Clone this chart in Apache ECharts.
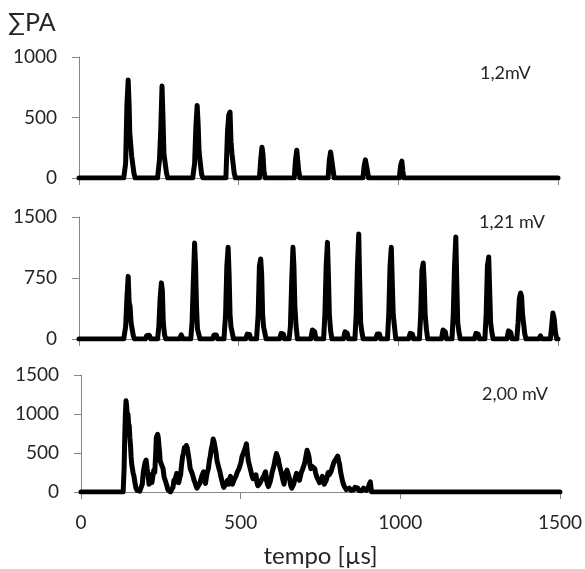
<!DOCTYPE html>
<html><head><meta charset="utf-8">
<script src="https://cdn.jsdelivr.net/npm/echarts@6/dist/echarts.min.js"></script>
<style>html,body{margin:0;padding:0;background:#fff}#c{width:585px;height:569px}</style>
</head><body><div id="c"></div>
<script>
// x: time [µs], y: ΣPA
const xTicks = [0, 500, 1000, 1500];
const panelLabels = ['1,2mV', '1,21 mV', '2,00 mV'];
const yMax = [1000, 1500, 1500];
const yStep = [500, 750, 500];

const data12 = [[0,0],[140,0],[146,120],[150,600],[154,810],[157,600],[159,370],[162,360],[165,180],[168,170],[172,40],[176,0],
 [246,0],[252,150],[256,400],[260,760],[263,500],[266,200],[270,190],[274,40],[278,0],
 [356,0],[362,120],[366,420],[370,600],[373,450],[376,220],[380,120],[384,30],[388,0],
 [460,0],[465,380],[469,520],[473,545],[476,300],[479,200],[482,190],[486,40],[490,0],
 [565,0],[569,150],[573,255],[576,200],[579,60],[583,0],
 [674,0],[678,150],[682,230],[685,220],[688,60],[692,0],
 [780,0],[784,150],[788,215],[792,200],[795,80],[799,0],
 [889,0],[893,100],[897,150],[900,140],[903,60],[907,0],
 [1003,0],[1007,100],[1011,140],[1014,60],[1017,0],[1500,0]];

const data121 = [[0,0],[140,0],[146,150],[150,500],[154,770],[157,450],[160,400],[163,200],[166,180],[170,40],[174,0],
 [208,0],[212,40],[220,45],[225,0],
 [246,0],[250,150],[254,500],[258,690],[261,600],[264,200],[268,50],[272,0],
 [315,0],[320,50],[326,0],
 [350,0],[354,200],[358,700],[362,1180],[365,900],[368,400],[371,120],[375,100],[379,0],
 [418,0],[423,50],[430,50],[434,0],
 [454,0],[459,300],[463,900],[467,1127],[470,800],[473,300],[476,150],[480,130],[484,0],
 [522,0],[527,60],[534,55],[538,0],
 [556,0],[561,300],[565,900],[569,984],[572,800],[575,300],[578,150],[582,130],[586,0],
 [628,0],[633,70],[640,60],[644,0],
 [658,0],[662,150],[666,700],[670,1127],[673,900],[676,400],[680,150],[684,0],
 [726,0],[731,110],[738,90],[742,0],
 [766,0],[770,300],[774,900],[778,1188],[781,800],[784,300],[788,100],[792,0],
 [828,0],[833,90],[840,70],[844,0],
 [864,0],[868,300],[872,900],[876,1291],[879,700],[882,200],[886,80],[890,0],
 [929,0],[934,60],[941,60],[945,0],
 [966,0],[970,300],[974,900],[978,1127],[981,700],[984,300],[988,150],[992,0],
 [1032,0],[1037,70],[1044,60],[1048,0],
 [1066,0],[1070,300],[1074,850],[1078,935],[1081,700],[1084,300],[1088,120],[1092,0],
 [1135,0],[1140,110],[1147,90],[1151,0],
 [1168,0],[1172,300],[1176,900],[1180,1254],[1183,700],[1186,200],[1190,80],[1194,0],
 [1238,0],[1243,70],[1250,60],[1254,0],
 [1271,0],[1275,300],[1279,900],[1283,1008],[1286,600],[1289,200],[1293,80],[1297,0],
 [1340,0],[1345,100],[1352,80],[1356,0],
 [1371,0],[1375,200],[1379,500],[1383,566],[1386,520],[1389,300],[1392,200],[1396,60],[1400,0],
 [1440,0],[1445,40],[1450,0],
 [1476,0],[1480,150],[1484,320],[1488,250],[1492,80],[1496,0],[1500,0]];

const data200 = [[0,0],[132,0],[135,300],[137,700],[139,1000],[141,1170],[143,1100],[145,950],[147,1000],[149,880],[151,850],[153,700],
 [155,600],[157,450],[159,350],[161,300],[163,250],[166,200],[169,120],[172,50],[176,20],[180,0],
 [184,10],[188,30],[192,100],[195,250],[198,320],[201,380],[204,410],[207,300],[210,220],[213,100],[216,180],[219,220],[222,120],
 [225,200],[228,280],[231,250],[234,500],[236,700],[238,680],[240,740],[242,700],[244,600],[246,520],[248,400],[251,420],[254,330],
 [257,300],[260,200],[263,180],[266,120],[269,80],[272,30],[276,10],[280,0],
 [284,30],[288,60],[291,150],[294,120],[297,200],[300,240],[303,150],[306,120],[309,180],[312,220],[315,350],[318,450],[321,500],
 [324,570],[327,540],[330,597],[333,560],[336,480],[339,400],[342,300],[345,320],[348,240],[351,200],[354,150],[357,120],[360,80],
 [363,50],[366,30],[369,60],[372,110],[375,150],[378,200],[381,230],[384,260],[387,150],[390,110],[393,200],[396,260],[399,300],
 [402,400],[405,460],[408,550],[411,600],[414,680],[417,640],[420,660],[423,500],[426,400],[429,350],[432,300],[435,260],[438,200],
 [441,150],[444,100],[447,60],[450,40],[453,80],[456,120],[459,150],[462,100],[465,160],[468,200],[471,140],[474,100],[477,130],
 [480,160],[483,180],[486,210],[489,250],[492,260],[495,300],[498,320],[501,380],[504,450],[507,480],[510,500],[514,560],[518,617],
 [521,500],[524,400],[527,350],[530,300],[533,250],[536,200],[539,170],[542,150],[545,180],[548,220],[551,120],[554,80],[557,90],
 [560,110],[563,130],[566,160],[569,180],[572,200],[575,230],[578,260],[581,150],[584,100],[587,70],[590,60],[593,140],[596,200],
 [599,260],[602,300],[605,350],[608,420],[612,493],[615,460],[618,420],[621,350],[624,300],[627,250],[630,200],[633,140],[636,100],
 [639,200],[642,250],[645,280],[648,300],[651,200],[654,150],[657,80],[660,50],[663,70],[666,100],[669,150],[672,200],[675,240],
 [678,250],[681,180],[684,150],[687,200],[690,250],[693,280],[696,300],[699,350],[702,400],[705,470],[708,535],[711,500],[714,450],
 [717,350],[720,300],[723,330],[726,350],[729,320],[732,300],[735,240],[738,200],[741,170],[744,150],[747,120],[750,100],[753,150],
 [756,200],[759,130],[762,100],[765,120],[768,150],[771,200],[774,250],[777,220],[780,200],[783,260],[786,300],[789,340],[792,380],
 [795,400],[798,420],[801,440],[804,461],[807,400],[810,350],[813,260],[816,200],[819,140],[822,100],[825,70],[828,50],[831,30],
 [834,20],[837,40],[840,50],[843,30],[846,20],[849,10],[852,0],[855,30],[858,60],[861,70],[864,80],[867,50],[870,20],[873,10],
 [876,0],[879,15],[882,30],[885,50],[888,60],[891,40],[894,20],[897,40],[900,60],[903,100],[906,130],[908,60],[910,0],[1500,0]];

const seriesData = [data12, data121, data200];
const FONT = 'Lato';
const grids = [
  {left: 79, right: 27, top: 57, height: 121},
  {left: 79, right: 27, top: 217, height: 122},
  {left: 81, right: 22, top: 375, height: 122}
];
const axisGrey = '#868686';
const textCol = '#262626';
const plain = v => String(v);

const option = {
  animation: false,
  grid: grids,
  xAxis: grids.map((g, i) => ({
    type: 'value', gridIndex: i, min: xTicks[0], max: xTicks[xTicks.length - 1], interval: 500,
    axisLine: {show: true, lineStyle: {color: axisGrey, width: 1}},
    axisTick: {show: true, length: 7, lineStyle: {color: axisGrey}},
    splitLine: {show: false},
    axisLabel: {show: i === 2, formatter: plain, fontFamily: FONT, fontSize: 19, color: textCol, margin: 21},
    name: i === 2 ? 'tempo [µs]' : '', nameLocation: 'middle', nameGap: 52,
    nameTextStyle: {fontFamily: FONT, fontSize: 24, color: textCol}
  })),
  yAxis: grids.map((g, i) => ({
    type: 'value', gridIndex: i, min: 0, max: yMax[i], interval: yStep[i],
    axisLine: {show: true, lineStyle: {color: axisGrey, width: 1}},
    axisTick: {show: true, length: 7, lineStyle: {color: axisGrey}},
    splitLine: {show: false},
    axisLabel: {formatter: plain, fontFamily: FONT, fontSize: 19, color: textCol, margin: 22}
  })),
  series: seriesData.map((d, i) => ({
    type: 'line', xAxisIndex: i, yAxisIndex: i, data: d, showSymbol: false,
    lineStyle: {color: '#000', width: 5, join: 'round', cap: 'round'},
    z: 5
  })),
  graphic: [
    {type: 'text', left: 8, top: 10, style: {text: '∑PA', font: '25px ' + FONT, fill: textCol}},
    {type: 'text', left: 480, top: 64, style: {text: panelLabels[0], font: '18px ' + FONT, fill: textCol}},
    {type: 'text', left: 479, top: 213, style: {text: panelLabels[1], font: '18px ' + FONT, fill: textCol}},
    {type: 'text', left: 482, top: 385, style: {text: panelLabels[2], font: '18px ' + FONT, fill: textCol}}
  ]
};
echarts.init(document.getElementById('c'), null, {renderer: 'canvas'}).setOption(option);
</script></body></html>
